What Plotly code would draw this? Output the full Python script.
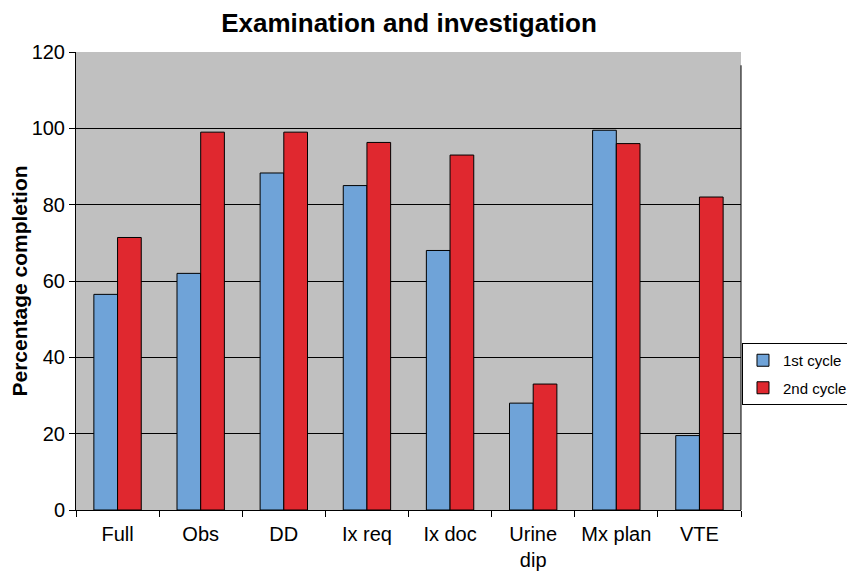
import plotly.graph_objects as go

categories = ["Full", "Obs", "DD", "Ix req", "Ix doc", "Urine<br>dip", "Mx plan", "VTE"]
cycle1 = [56.5, 62, 88.3, 85, 68, 28, 99.5, 19.5]
cycle2 = [71.4, 99, 99, 96.3, 93, 33, 96, 82]
y_ticks = [0, 20, 40, 60, 80, 100, 120]

font_family = "Liberation Sans, Arial, sans-serif"

fig = go.Figure()
fig.add_trace(go.Bar(name="1st cycle", x=categories, y=cycle1, legendgroup="a",
                     marker=dict(color="#6fa3d8", line=dict(color="black", width=1))))
fig.add_trace(go.Bar(name="2nd cycle", x=categories, y=cycle2, legendgroup="b",
                     marker=dict(color="#e0282f", line=dict(color="black", width=1))))

fig.update_layout(
    width=847, height=564,
    margin=dict(l=68, r=114, t=44, b=62, autoexpand=False),
    paper_bgcolor="white", plot_bgcolor="#c0c0c0",
    barmode="group", bargap=0.43, bargroupgap=0,
    font=dict(family=font_family, size=20, color="black"),
    title=dict(text="<b>Examination and investigation</b>", x=0.4734, xanchor="center",
               y=0.973, yanchor="middle", font=dict(size=26)),
    legend=dict(x=1.0015, xanchor="left", y=0.3646, yanchor="top",
                bordercolor="black", borderwidth=1, bgcolor="white",
                font=dict(size=15), traceorder="grouped", tracegroupgap=5, itemwidth=30),
    showlegend=True,
)
fig.update_xaxes(showline=True, linecolor="black", linewidth=1,
                 ticks="outside", tickson="boundaries", ticklen=6, tickcolor="black",
                 showgrid=False, tickfont=dict(size=20), ticklabelstandoff=6)
fig.update_yaxes(range=[0, 120], tickvals=y_ticks, showline=True, linecolor="black", linewidth=1,
                 ticks="outside", ticklen=6, tickcolor="black",
                 showgrid=True, gridcolor="black", gridwidth=1, zeroline=False,
                 tickfont=dict(size=20),
                 title=dict(text="<b>Percentage completion</b>", font=dict(size=21), standoff=10))
fig.add_shape(type="line", xref="paper", yref="paper", x0=1, x1=1, y0=0, y1=0.971,
              line=dict(color="black", width=1))

fig.write_html("out.html")
